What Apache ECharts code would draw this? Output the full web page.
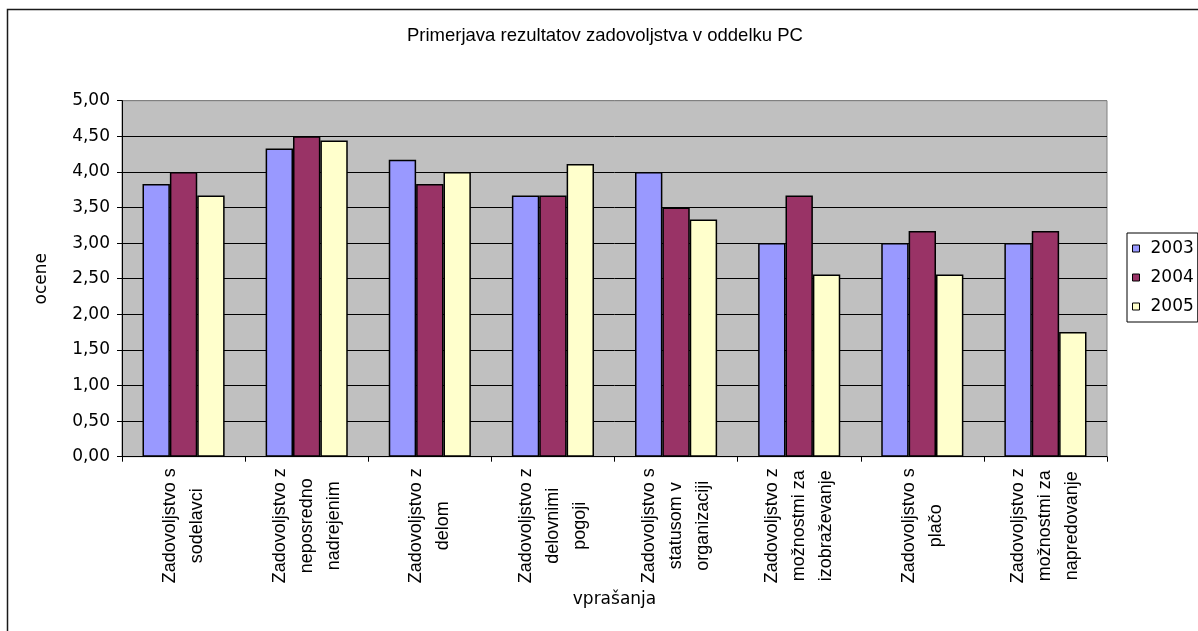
<!DOCTYPE html>
<html>
<head>
<meta charset="utf-8">
<script src="https://cdn.jsdelivr.net/npm/echarts@6/dist/echarts.min.js"></script>
<style>
  html, body { margin: 0; padding: 0; background: #ffffff; }
  #chart { width: 1198px; height: 631px; }
</style>
</head>
<body>
<div id="chart"></div>
<script>
// Survey questions (one line per wrapped row of the axis label)
const categories = [
  'Zadovoljstvo s\nsodelavci',
  'Zadovoljstvo z\nneposredno\nnadrejenim',
  'Zadovoljstvo z\ndelom',
  'Zadovoljstvo z\ndelovnimi\npogoji',
  'Zadovoljstvo s\nstatusom v\norganizaciji',
  'Zadovoljstvo z\nmožnostmi za\nizobraževanje',
  'Zadovoljstvo s\nplačo',
  'Zadovoljstvo z\nmožnostmi za\nnapredovanje'
];

// Average scores per year
const years = ['2003', '2004', '2005'];
const scores2003 = [3.83, 4.33, 4.17, 3.67, 4.00, 3.00, 3.00, 3.00];
const scores2004 = [4.00, 4.50, 3.83, 3.67, 3.50, 3.67, 3.17, 3.17];
const scores2005 = [3.67, 4.44, 4.00, 4.11, 3.33, 2.56, 2.56, 1.75];

const barColors = ['#9999ff', '#993366', '#ffffcc'];

const chart = echarts.init(document.getElementById('chart'));

const makeSeries = (name, data, color) => ({
  name: name,
  type: 'bar',
  data: data,
  barGap: '0%',
  barCategoryGap: '33.3%',
  itemStyle: { color: color, borderColor: '#000000', borderWidth: 1.5 },
  emphasis: { disabled: true }
});

chart.setOption({
  animation: false,
  backgroundColor: '#ffffff',
  title: {
    text: 'Primerjava rezultatov zadovoljstva v oddelku PC',
    left: 407,
    top: 26,
    padding: 0,
    textStyle: {
      fontFamily: 'Liberation Sans',
      fontSize: 18.5,
      fontWeight: 'normal',
      color: '#000000'
    }
  },
  legend: {
    orient: 'vertical',
    left: 1127,
    top: 233,
    padding: [7, 4, 7, 5],
    itemGap: 12,
    itemWidth: 7,
    itemHeight: 7,
    icon: 'rect',
    borderColor: '#000000',
    borderWidth: 1,
    backgroundColor: '#ffffff',
    itemStyle: { borderColor: '#000000', borderWidth: 1 },
    textStyle: {
      fontFamily: 'DejaVu Sans',
      fontSize: 17,
      color: '#000000',
      padding: [0, 0, 0, 6]
    },
    data: years
  },
  graphic: [{
    type: 'rect',
    shape: { x: 7.5, y: 9.5, width: 1300, height: 700 },
    style: { fill: 'none', stroke: '#1a1a1a', lineWidth: 1.5 },
    silent: true
  }],
  grid: {
    left: 122,
    right: 91,
    top: 100.7,
    bottom: 174.3,
    show: true,
    backgroundColor: '#c0c0c0',
    borderColor: '#808080',
    borderWidth: 1
  },
  xAxis: {
    type: 'category',
    data: categories,
    name: 'vprašanja',
    nameLocation: 'middle',
    nameGap: 134,
    nameTextStyle: { fontFamily: 'DejaVu Sans', fontSize: 17, color: '#000000' },
    axisLine: { lineStyle: { color: '#000000', width: 1 } },
    axisTick: { show: true, alignWithLabel: false, length: 5, lineStyle: { color: '#000000' } },
    axisLabel: {
      interval: 0,
      rotate: 90,
      align: 'center',
      verticalAlign: 'middle',
      margin: 69,
      lineHeight: 27,
      fontFamily: 'Liberation Sans',
      fontSize: 18,
      color: '#000000'
    },
    splitLine: { show: false }
  },
  yAxis: {
    type: 'value',
    min: 0,
    max: 5,
    interval: 0.5,
    name: 'ocene',
    nameLocation: 'middle',
    nameRotate: 90,
    nameGap: 72,
    nameTextStyle: { fontFamily: 'DejaVu Sans', fontSize: 17, color: '#000000' },
    axisLine: { show: true, lineStyle: { color: '#000000', width: 1 } },
    axisTick: { show: true, length: 5, lineStyle: { color: '#000000' } },
    axisLabel: {
      margin: 12,
      fontFamily: 'DejaVu Sans',
      fontSize: 17,
      color: '#000000',
      formatter: v => v.toFixed(2).replace('.', ',')
    },
    splitLine: {
      show: true,
      lineStyle: {
        color: ['#000000', '#000000', '#000000', '#000000', '#000000', '#000000',
                '#000000', '#000000', '#000000', '#000000', '#808080'],
        width: 1
      }
    }
  },
  series: [
    makeSeries(years[0], scores2003, barColors[0]),
    makeSeries(years[1], scores2004, barColors[1]),
    makeSeries(years[2], scores2005, barColors[2])
  ]
});
</script>
</body>
</html>
